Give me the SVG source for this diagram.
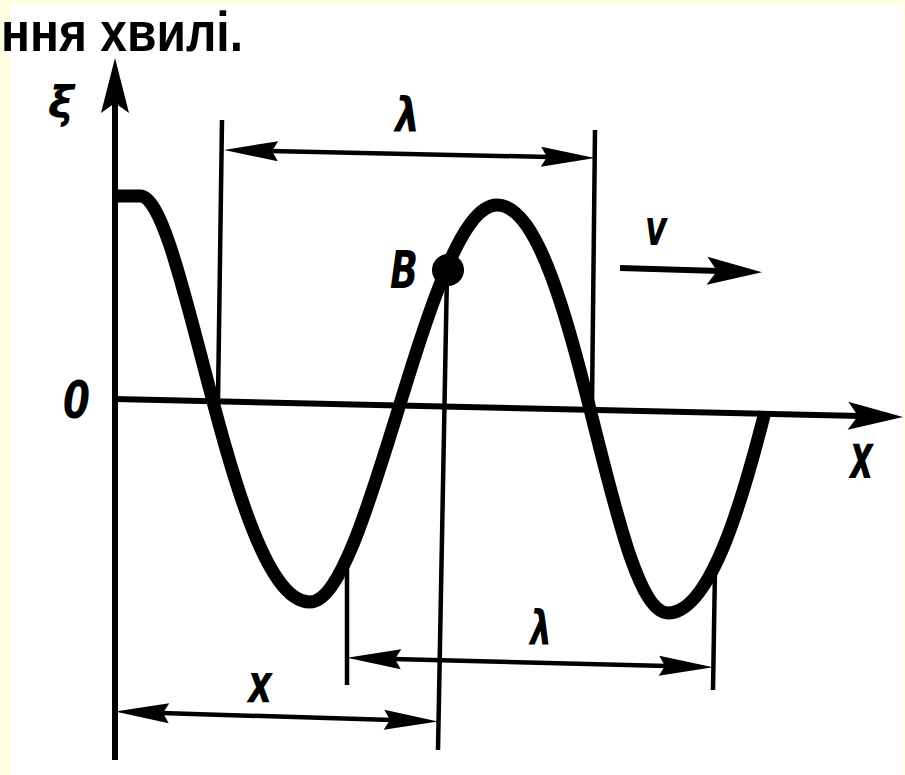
<svg xmlns="http://www.w3.org/2000/svg" width="905" height="775" viewBox="0 0 905 775">
  <style>
    .lbl { font-family: "DejaVu Sans", "Liberation Sans", sans-serif; font-weight: bold; font-style: italic; fill: #000; }
    .dim { stroke: #000; stroke-width: 4.5; fill: none; }
    .ax { stroke: #000; stroke-width: 6; fill: none; }
    .wave { stroke: #000; stroke-width: 13; fill: none; stroke-linejoin: round; }
  </style>
  <defs>
    <marker id="ah" markerUnits="userSpaceOnUse" viewBox="-5 -20 70 40" markerWidth="70" markerHeight="40" refX="12" refY="0" orient="auto-start-reverse" overflow="visible">
      <path d="M0,-14 L55,0 L0,14 L10,0 Z" fill="#000"/>
    </marker>
    <marker id="dh" markerUnits="userSpaceOnUse" viewBox="-5 -15 65 30" markerWidth="65" markerHeight="30" refX="8" refY="0" orient="auto-start-reverse" overflow="visible">
      <path d="M0,-10 L54,0 L0,10 L6,0 Z" fill="#000"/>
    </marker>
  </defs>

  <rect x="0" y="0" width="905" height="775" fill="#FFFFE0"/>
  <rect x="10" y="4" width="893" height="771" fill="#FFFFFF"/>

  <g id="title">
    <text x="1" y="51" font-family="Liberation Sans, Arial, sans-serif" font-weight="bold" font-size="55" textLength="242" lengthAdjust="spacingAndGlyphs" fill="#000">ння хвилі.</text>
  </g>

  <g id="axes">
    <line class="ax" x1="115" y1="760" x2="115" y2="101" marker-end="url(#ah)"/>
    <line class="ax" x1="115" y1="399" x2="860" y2="416" marker-end="url(#ah)"/>
  </g>

  <g id="wave">
    <path class="wave" d="M115,196 L140,196 C185,196 231,602 310,602 C370,602 428,205 497,205 C575,205 610,613 668,613 C712,613 745,490 765,412"/>
  </g>

  <g id="point-B">
    <circle cx="448" cy="270" r="16" fill="#000"/>
    <text class="lbl" x="390" y="288" font-size="52" textLength="28" lengthAdjust="spacingAndGlyphs">B</text>
  </g>

  <g id="connectors">
    <line class="dim" x1="222" y1="120" x2="218" y2="400"/>
    <line class="dim" x1="595" y1="130" x2="592" y2="405"/>
    <line class="dim" x1="447" y1="272" x2="438" y2="750"/>
    <line class="dim" x1="347" y1="560" x2="347" y2="685"/>
    <line class="dim" x1="715" y1="568" x2="713" y2="690"/>
    <line class="dim" x1="270" y1="151" x2="549" y2="157" marker-start="url(#dh)" marker-end="url(#dh)"/>
    <line class="dim" x1="393" y1="659" x2="667" y2="666" marker-start="url(#dh)" marker-end="url(#dh)"/>
    <line class="dim" x1="161" y1="713" x2="392" y2="720" marker-start="url(#dh)" marker-end="url(#dh)"/>
    <line class="ax" x1="620" y1="268" x2="719" y2="271" marker-end="url(#ah)"/>
  </g>

  <g id="labels">
    <text class="lbl" x="61" y="118" font-size="44" text-anchor="middle">ξ</text>
    <text class="lbl" x="395" y="132" font-size="48" textLength="25" lengthAdjust="spacingAndGlyphs">λ</text>
    <text class="lbl" x="530" y="645" font-size="48" textLength="22" lengthAdjust="spacingAndGlyphs">λ</text>
    <text class="lbl" x="645" y="245" font-size="50" textLength="22" lengthAdjust="spacingAndGlyphs">v</text>
    <text class="lbl" x="63" y="418" font-size="52" textLength="27" lengthAdjust="spacingAndGlyphs" font-weight="normal">0</text>
    <text class="lbl" x="850" y="478" font-size="62" textLength="23" lengthAdjust="spacingAndGlyphs">x</text>
    <text class="lbl" x="248" y="702" font-size="53" textLength="24" lengthAdjust="spacingAndGlyphs">x</text>
  </g>
</svg>
